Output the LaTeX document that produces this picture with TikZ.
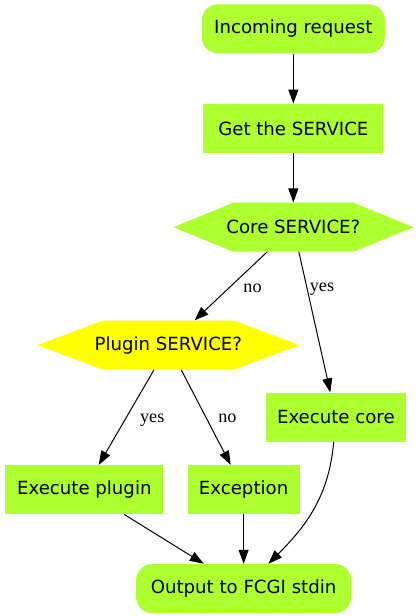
\documentclass[tikz,border=0pt]{standalone}
\usepackage{fontspec}
\setmainfont{DejaVu Sans}
\newfontfamily\edgefont{Liberation Serif}
\usetikzlibrary{positioning}
\usetikzlibrary{calc}
\usetikzlibrary{arrows.meta}

\definecolor{gvgreen}{HTML}{ADFF2F}
\definecolor{gvyellow}{HTML}{FFFF00}

\tikzset{
  terminal/.style={rectangle, rounded corners=12pt, fill=gvgreen, minimum height=36.75pt,
    inner sep=0pt, font=\fontsize{13.6}{16}\selectfont},
  process/.style={rectangle, fill=gvgreen, minimum height=36.75pt,
    inner sep=0pt, font=\fontsize{13.6}{16}\selectfont},
  decision/.style={rectangle, minimum height=36.75pt, inner sep=0pt,
    font=\fontsize{13.6}{16}\selectfont,
    path picture={\fill[#1] (path picture bounding box.west)
      -- ($(path picture bounding box.north west)!0.25!(path picture bounding box.north east)$)
      -- ($(path picture bounding box.north west)!0.75!(path picture bounding box.north east)$)
      -- (path picture bounding box.east)
      -- ($(path picture bounding box.south west)!0.75!(path picture bounding box.south east)$)
      -- ($(path picture bounding box.south west)!0.25!(path picture bounding box.south east)$)
      -- cycle;}},
  flow/.style={-{Triangle[length=10.5pt,width=7.5pt]}, line width=0.75pt},
  cond/.style={font=\edgefont\fontsize{13.6}{16}\selectfont, inner sep=0pt, anchor=base west},
}

\begin{document}
\begin{tikzpicture}
    \useasboundingbox (0,0) rectangle (315pt,-462pt);

    \node[terminal, minimum width=137.25pt] (req) at (220pt,-21.6pt) {Incoming request};
    \node[process, minimum width=135pt, below=37.5pt of req] (get) {Get the SERVICE};
    \node[decision=gvgreen, minimum width=180pt, below=37pt of get] (core) {Core SERVICE?};
    \node[decision=gvyellow, minimum width=196.5pt, below=51.3pt of core, xshift=-93.75pt] (plugin) {Plugin SERVICE?};
    \node[process, minimum width=105pt, below=105.3pt of core, xshift=31.9pt] (execcore) {Execute core};
    \node[process, minimum width=118.5pt, below=71.25pt of plugin, xshift=-63pt] (execplugin) {Execute plugin};
    \node[process, minimum width=84pt, right=17.8pt of execplugin] (exception) {Exception};
    \node[terminal, minimum width=161.25pt, below=37pt of exception] (output) {Output to FCGI stdin};

    % Edges
    \draw[flow] (req) -- (get);
    \draw[flow] (get) -- (core);
    \draw[flow] (core) -- node[cond, pos=0.59, xshift=14pt] {no} (plugin);
    \draw[flow] (core) -- node[cond, pos=0.284, xshift=1.2pt] {yes} (execcore);
    \draw[flow] (plugin) -- node[cond, pos=0.558, xshift=12.4pt] {yes} (execplugin);
    \draw[flow] (plugin) -- node[cond, pos=0.558, xshift=6.7pt] {no} (exception);
    \draw[flow] (execplugin) -- (output);
    \draw[flow] (exception) -- (output);
    \draw[flow] (execcore) to[out=-95, in=45] (output);
\end{tikzpicture}
\end{document}
